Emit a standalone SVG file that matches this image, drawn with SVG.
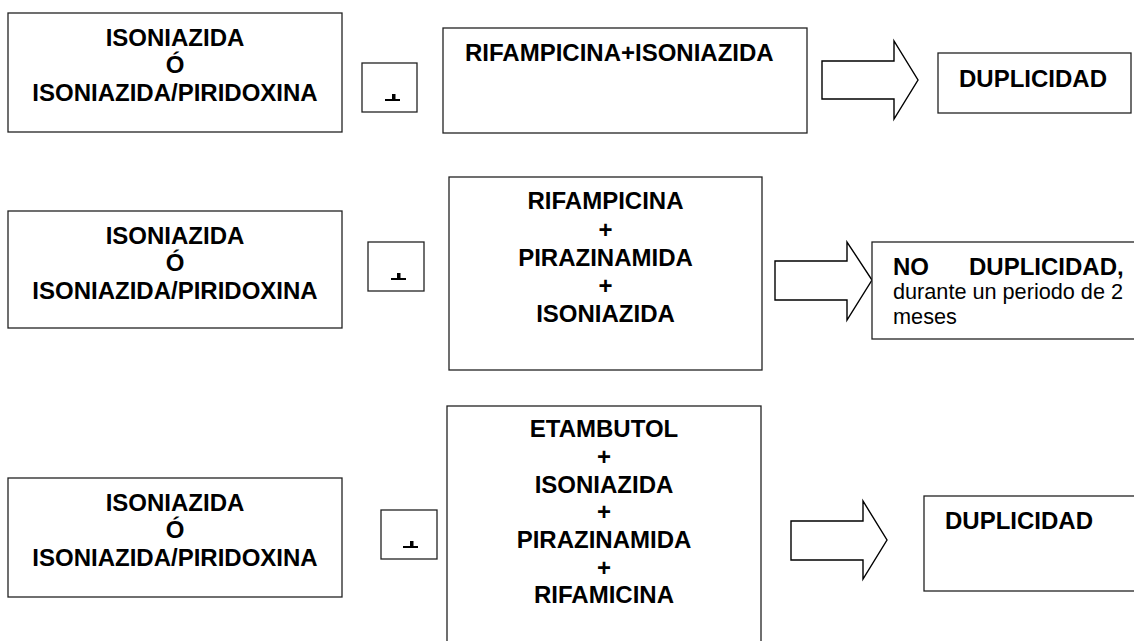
<svg xmlns="http://www.w3.org/2000/svg" width="1134" height="641" viewBox="0 0 1134 641">
<style>
.box{fill:#fff;stroke:#222;stroke-width:1.3}
.arr{fill:#fff;stroke:#000;stroke-width:1.4;stroke-linejoin:miter}
.b{font-family:"Liberation Sans",Arial,sans-serif;font-weight:bold;font-size:24px;fill:#000}
.c{text-anchor:middle}
.r{font-family:"Liberation Sans",Arial,sans-serif;font-size:21.7px;fill:#000}
.mk{fill:#000}
</style>
<rect width="1134" height="641" fill="#fff"/>
<g id="connectors">
<path class="arr" d="M822,61 H894 V41 L918,80 L894,119 V99 H822 Z"/>
<path class="arr" d="M775,261 H847 V242 L872,280 L847,320 V300 H775 Z"/>
<path class="arr" d="M791,521 H863 V501 L887,540 L863,579 V560 H791 Z"/>
</g>
<g id="row1-left">
<rect class="box" x="8" y="13" width="334" height="119"/>
<text class="b c" x="175" y="46">ISONIAZIDA</text>
<text class="b c" x="175" y="72.5">Ó</text>
<text class="b c" x="175" y="101">ISONIAZIDA/PIRIDOXINA</text>
</g>
<g id="row1-small">
<rect class="box" x="362" y="63" width="55" height="49"/>
<rect class="mk" x="385" y="99" width="15" height="2"/>
<rect class="mk" x="392" y="94" width="3.5" height="6"/>
</g>
<g id="row1-mid">
<rect class="box" x="443" y="28" width="364" height="105"/>
<text class="b" x="465" y="61">RIFAMPICINA+ISONIAZIDA</text>
</g>
<g id="row1-right">
<rect class="box" x="938" y="53" width="193" height="60"/>
<text class="b c" x="1033" y="87">DUPLICIDAD</text>
</g>
<g id="row2-left">
<rect class="box" x="8" y="211" width="334" height="117"/>
<text class="b c" x="175" y="244">ISONIAZIDA</text>
<text class="b c" x="175" y="271">Ó</text>
<text class="b c" x="175" y="299">ISONIAZIDA/PIRIDOXINA</text>
</g>
<g id="row2-small">
<rect class="box" x="368" y="242" width="56" height="49"/>
<rect class="mk" x="391" y="278" width="15" height="2"/>
<rect class="mk" x="397" y="273" width="3.5" height="6"/>
</g>
<g id="row2-mid">
<rect class="box" x="449" y="177" width="313" height="193"/>
<text class="b c" x="605.5" y="209">RIFAMPICINA</text>
<text class="b c" x="605.5" y="237.5">+</text>
<text class="b c" x="605.5" y="266">PIRAZINAMIDA</text>
<text class="b c" x="605.5" y="294">+</text>
<text class="b c" x="605.5" y="322">ISONIAZIDA</text>
</g>
<g id="row2-right">
<rect class="box" x="872" y="242" width="270" height="97"/>
<text class="b" y="275"><tspan x="893">NO</tspan><tspan x="969">DUPLICIDAD,</tspan></text>
<text class="r" x="893" y="299" textLength="230" lengthAdjust="spacing">durante un periodo de 2</text>
<text class="r" x="893" y="324">meses</text>
</g>
<g id="row3-left">
<rect class="box" x="8" y="478" width="334" height="119"/>
<text class="b c" x="175" y="511">ISONIAZIDA</text>
<text class="b c" x="175" y="537.5">Ó</text>
<text class="b c" x="175" y="566">ISONIAZIDA/PIRIDOXINA</text>
</g>
<g id="row3-small">
<rect class="box" x="381" y="510" width="56" height="49"/>
<rect class="mk" x="403" y="546" width="15" height="2"/>
<rect class="mk" x="410" y="541" width="3.5" height="6"/>
</g>
<g id="row3-mid">
<rect class="box" x="447" y="406" width="314" height="240"/>
<text class="b c" x="604" y="437">ETAMBUTOL</text>
<text class="b c" x="604" y="465">+</text>
<text class="b c" x="604" y="492.5">ISONIAZIDA</text>
<text class="b c" x="604" y="520">+</text>
<text class="b c" x="604" y="548">PIRAZINAMIDA</text>
<text class="b c" x="604" y="575.5">+</text>
<text class="b c" x="604" y="603">RIFAMICINA</text>
</g>
<g id="row3-right">
<rect class="box" x="924" y="496" width="220" height="95"/>
<text class="b" x="945" y="529">DUPLICIDAD</text>
</g>
</svg>
